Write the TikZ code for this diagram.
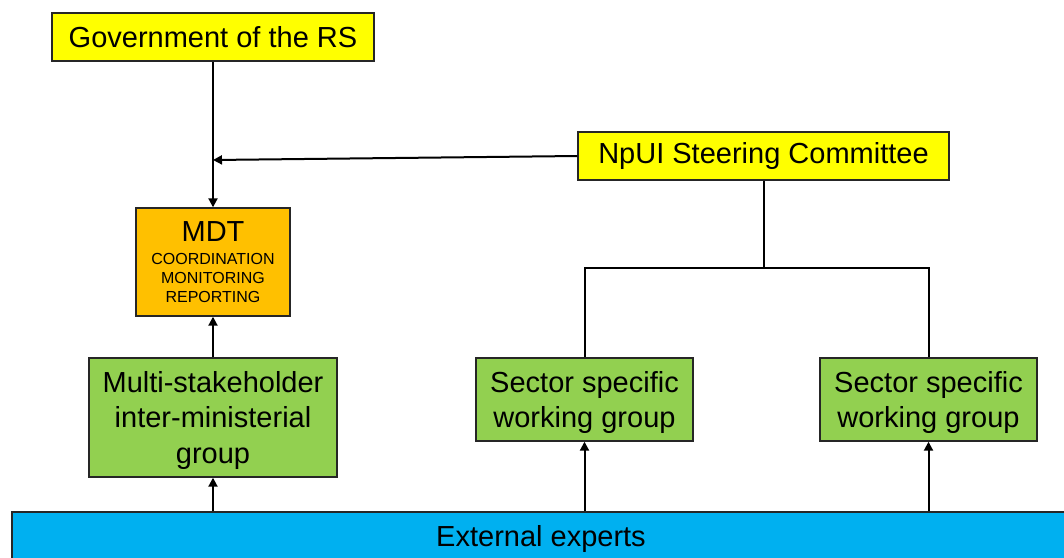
\documentclass[tikz,border=0pt]{standalone}
\usepackage{fontspec}
\setmainfont{Liberation Sans}
\usetikzlibrary{arrows.meta}
\definecolor{boxyellow}{HTML}{FFFF00}
\definecolor{boxorange}{HTML}{FFC000}
\definecolor{boxgreen}{HTML}{92D050}
\definecolor{boxblue}{HTML}{00B0F0}
\definecolor{edge}{HTML}{262626}
\newcommand{\smalltxt}{\fontsize{16}{19}\selectfont}
\begin{document}
\begin{tikzpicture}[x=1pt,y=-1pt,
  box/.style={draw=edge, line width=1.4pt, rectangle, inner sep=0pt, align=center,
    font=\fontsize{29}{35.5}\selectfont},
  link/.style={draw=black, line width=2pt},
  arr/.style={link, -{Triangle[length=9pt,width=9pt]}}]
\useasboundingbox (0,0) rectangle (1064,557);
\fill[white] (0,0) rectangle (1064,557);

% boxes
\node[box, fill=boxyellow, minimum width=322pt, minimum height=48pt] (gov) at (213,37) {Government of the RS};
\node[box, fill=boxyellow, minimum width=371pt, minimum height=48pt] (npui) at (763.5,156) {NpUI Steering Committee};
\node[box, fill=boxorange, minimum width=154pt, minimum height=108pt] (mdt) at (213,262)
  {MDT\\[-12.5pt]\smalltxt COORDINATION\\[-16.5pt]\smalltxt MONITORING\\[-16.5pt]\smalltxt REPORTING};
\node[box, fill=boxgreen, minimum width=248pt, minimum height=119pt] (multi) at (213,417.5)
  {\rule{0pt}{27pt}Multi-stakeholder\\inter-ministerial\\group};
\node[box, fill=boxgreen, minimum width=217pt, minimum height=83pt] (s1) at (584.5,399.5)
  {\rule{0pt}{27pt}Sector specific\\working group};
\node[box, fill=boxgreen, minimum width=217pt, minimum height=83pt] (s2) at (928.5,399.5)
  {\rule{0pt}{27pt}Sector specific\\working group};
\node[box, fill=boxblue, minimum width=1058pt, minimum height=53pt] (ext) at (541,538.5)
  {External experts};

% connectors
\coordinate (join) at (213,160);
\coordinate (hub) at (763.5,268);
\draw[arr] (gov.south) -- (mdt.north);
\draw[arr] (npui.west) -- (join);
\draw[link] (npui.south) -- (hub);
\draw[link] (s1.north) |- (hub) -| (s2.north);
\draw[arr] (multi.north) -- (mdt.south);
\draw[arr] (multi.south |- ext.north) -- (multi.south);
\draw[arr] (s1.south |- ext.north) -- (s1.south);
\draw[arr] (s2.south |- ext.north) -- (s2.south);
\end{tikzpicture}
\end{document}
